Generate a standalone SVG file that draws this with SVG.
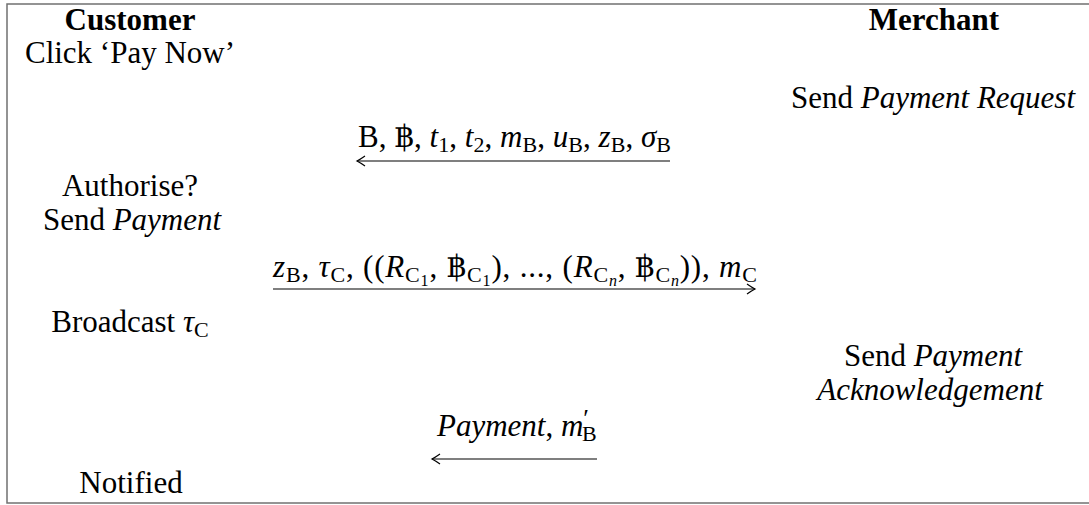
<svg xmlns="http://www.w3.org/2000/svg" width="1089" height="505" viewBox="0 0 1089 505">
<style>
text{font-family:"Liberation Serif","DejaVu Serif","Noto Sans",serif;font-size:31px;fill:#000}
.b{font-weight:bold}
.i{font-style:italic}
.s{font-size:22px}
.ss{font-size:16px}
.c{text-anchor:middle}
.arr{stroke:#000;stroke-width:1.2;fill:none}
</style>
<defs>
<marker id="ah" markerUnits="userSpaceOnUse" markerWidth="14" markerHeight="14" viewBox="-10 -7 12 14" refX="0" refY="0" orient="auto-start-reverse">
<path d="M-8,-5 Q-3,-1.5 0,0 Q-3,1.5 -8,5" fill="none" stroke="#000" stroke-width="1.2"/>
</marker>
</defs>
<rect x="7" y="4" width="1100" height="499" fill="#fff" stroke="#707070" stroke-width="1.5"/>
<g id="customer">
<text class="b c" x="130" y="30">Customer</text>
<text class="c" x="130" y="63">Click ‘Pay Now’</text>
<text class="c" x="130" y="196">Authorise?</text>
<text class="c" x="132" y="230">Send <tspan class="i">Payment</tspan></text>
<text class="c" x="130" y="332">Broadcast <tspan class="i">τ</tspan><tspan class="s" dy="5">C</tspan></text>
<text class="c" x="131" y="493">Notified</text>
</g>
<g id="merchant">
<text class="b c" x="934" y="30">Merchant</text>
<text class="c" x="933" y="108">Send <tspan class="i">Payment Request</tspan></text>
<text class="c" x="933" y="366">Send <tspan class="i">Payment</tspan></text>
<text class="c i" x="930" y="400">Acknowledgement</text>
</g>
<g id="connectors">
<line class="arr" x1="670" y1="161" x2="357" y2="161" marker-end="url(#ah)"/>
<line class="arr" x1="273" y1="289" x2="755" y2="289" marker-end="url(#ah)"/>
<line class="arr" x1="597" y1="459" x2="432" y2="459" marker-end="url(#ah)"/>
</g>
<g id="label1">
<text x="358" y="147" textLength="313" lengthAdjust="spacing">B, ฿, <tspan class="i">t</tspan><tspan class="s" dy="5">1</tspan><tspan dy="-5">, </tspan><tspan class="i">t</tspan><tspan class="s" dy="5">2</tspan><tspan dy="-5">, </tspan><tspan class="i">m</tspan><tspan class="s" dy="5">B</tspan><tspan dy="-5">, </tspan><tspan class="i">u</tspan><tspan class="s" dy="5">B</tspan><tspan dy="-5">, </tspan><tspan class="i">z</tspan><tspan class="s" dy="5">B</tspan><tspan dy="-5">, </tspan><tspan class="i">σ</tspan><tspan class="s" dy="5">B</tspan></text>
</g>
<g id="label2">
<text x="273" y="277" textLength="484" lengthAdjust="spacing"><tspan class="i">z</tspan><tspan class="s" dy="5">B</tspan><tspan dy="-5">, </tspan><tspan class="i">τ</tspan><tspan class="s" dy="5">C</tspan><tspan dy="-5">, ((</tspan><tspan class="i">R</tspan><tspan class="s" dy="5">C</tspan><tspan class="ss" dy="4">1</tspan><tspan dy="-9">, ฿</tspan><tspan class="s" dy="5">C</tspan><tspan class="ss" dy="4">1</tspan><tspan dy="-9">), ..., (</tspan><tspan class="i">R</tspan><tspan class="s" dy="5">C</tspan><tspan class="ss i" dy="4">n</tspan><tspan dy="-9">, ฿</tspan><tspan class="s" dy="5">C</tspan><tspan class="ss i" dy="4">n</tspan><tspan dy="-9">)), </tspan><tspan class="i">m</tspan><tspan class="s" dy="5">C</tspan></text>
</g>
<g id="label3">
<text x="437" y="436"><tspan class="i">Payment</tspan>, <tspan class="i">m</tspan><tspan style="font-size:26px" dy="-9">′</tspan><tspan class="s" dx="-7" dy="14">B</tspan></text>
</g>
</svg>
